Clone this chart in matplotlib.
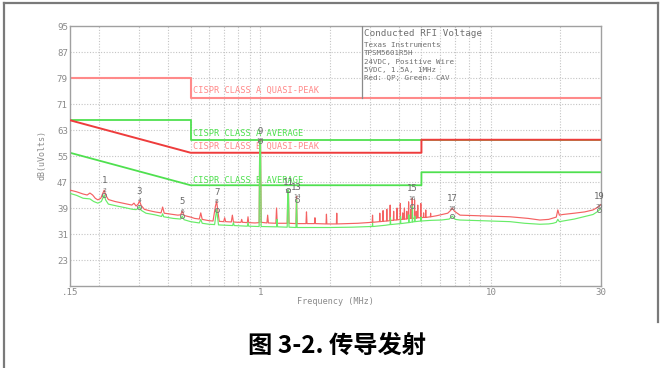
import matplotlib
matplotlib.use("Agg")
import matplotlib.pyplot as plt
from matplotlib.lines import Line2D

plt.rcParams["font.family"] = ["DejaVu Sans Mono"]

W, H = 662, 368

# CISPR 22 conducted emission limits (dBuV)
class_a_qp_f = [0.15, 0.5, 0.5, 30]
class_a_qp = [79, 79, 73, 73]
class_a_av_f = [0.15, 0.5, 0.5, 30]
class_a_av = [66, 66, 60, 60]
class_b_qp_f = [0.15, 0.5, 5, 5, 30]
class_b_qp = [66, 56, 56, 60, 60]
class_b_av_f = [0.15, 0.5, 5, 5, 30]
class_b_av = [56, 46, 46, 50, 50]

# quasi-peak scan
qp_freq = [0.150, 0.160, 0.171, 0.178, 0.183, 0.188, 0.193, 0.198, 0.204, 0.208,
           0.211, 0.214, 0.220, 0.235, 0.250, 0.265, 0.278, 0.284, 0.290, 0.296,
           0.300, 0.305, 0.315, 0.330, 0.350, 0.372, 0.378, 0.384, 0.410, 0.440,
           0.452, 0.460, 0.468, 0.500, 0.520, 0.545, 0.553, 0.561, 0.600, 0.625,
           0.640, 0.648, 0.656, 0.665, 0.695, 0.702, 0.709, 0.750, 0.758, 0.766,
           0.800, 0.826, 0.832, 0.838, 0.880, 0.886, 0.892, 0.950, 0.990, 0.996,
           1.004, 1.010, 1.070, 1.078, 1.086, 1.170, 1.178, 1.186, 1.310, 1.318,
           1.326, 1.334, 1.430, 1.438, 1.446, 1.580, 1.588, 1.596, 1.720, 1.728,
           1.736, 1.930, 1.938, 1.946, 2.140, 2.148, 2.156, 2.400, 2.650, 2.900,
           3.060, 3.070, 3.080, 3.290, 3.300, 3.310, 3.400, 3.410, 3.420, 3.530,
           3.540, 3.550, 3.650, 3.660, 3.670, 3.780, 3.790, 3.800, 3.910, 3.920,
           3.930, 4.040, 4.050, 4.060, 4.140, 4.150, 4.160, 4.210, 4.220, 4.230,
           4.310, 4.320, 4.330, 4.390, 4.400, 4.410, 4.480, 4.490, 4.500, 4.550,
           4.560, 4.570, 4.660, 4.670, 4.680, 4.740, 4.750, 4.760, 4.810, 4.820,
           4.830, 4.960, 4.970, 4.980, 5.100, 5.110, 5.120, 5.210, 5.220, 5.230,
           5.470, 5.480, 5.490, 5.800, 6.130, 6.500, 6.700, 6.800, 6.950, 7.350,
           9.000, 12.10, 14.50, 16.30, 17.80, 18.60, 19.20, 19.50, 19.80, 20.50,
           23.00, 25.50, 27.70, 29.00, 30.00]
qp_level = [44.5, 44.0, 43.3, 43.0, 43.6, 43.0, 42.0, 41.5, 42.0, 43.5,
            44.5, 43.0, 41.6, 41.0, 40.6, 40.2, 39.9, 40.5, 39.6, 40.2,
            41.2, 39.8, 38.6, 38.2, 37.8, 37.5, 39.3, 37.4, 37.1, 36.8,
            36.9, 38.0, 36.7, 36.2, 35.8, 35.6, 37.5, 35.5, 35.1, 35.0,
            39.5, 41.0, 38.0, 34.9, 34.8, 36.0, 34.8, 34.7, 36.8, 34.7,
            34.6, 34.6, 35.5, 34.6, 34.5, 36.3, 34.5, 34.4, 34.5, 59.8,
            59.8, 34.6, 34.4, 36.8, 34.4, 34.3, 39.0, 34.3, 34.3, 44.0,
            44.0, 34.3, 34.2, 42.5, 34.2, 34.2, 37.8, 34.2, 34.2, 36.0,
            34.2, 34.1, 37.1, 34.1, 34.1, 37.4, 34.1, 34.2, 34.3, 34.5,
            34.6, 36.8, 34.6, 34.8, 37.4, 34.8, 34.9, 38.2, 34.9, 35.0,
            38.6, 35.0, 35.1, 39.9, 35.2, 35.2, 38.0, 35.3, 35.3, 39.0,
            35.4, 35.4, 40.4, 35.5, 35.5, 37.5, 35.5, 35.6, 39.0, 35.6,
            35.6, 38.0, 35.7, 35.7, 40.9, 35.7, 35.8, 38.5, 35.8, 35.8,
            42.0, 35.8, 35.9, 41.5, 35.9, 35.9, 38.0, 35.9, 36.0, 39.9,
            36.0, 36.0, 40.4, 36.0, 36.1, 37.5, 36.1, 36.1, 38.4, 36.1,
            36.3, 37.4, 36.3, 36.6, 37.0, 37.4, 38.3, 39.0, 38.0, 36.8,
            36.6, 36.3, 35.8, 35.3, 35.5, 35.9, 36.2, 38.4, 36.8, 37.0,
            37.4, 37.8, 38.4, 39.2, 40.1]

# CISPR average scan
av_freq = [0.150, 0.160, 0.171, 0.183, 0.190, 0.198, 0.205, 0.209, 0.211, 0.214,
           0.220, 0.240, 0.260, 0.280, 0.290, 0.296, 0.300, 0.305, 0.320, 0.350,
           0.374, 0.378, 0.382, 0.420, 0.452, 0.460, 0.468, 0.500, 0.545, 0.553,
           0.561, 0.600, 0.635, 0.648, 0.660, 0.760, 0.766, 0.772, 0.880, 0.886,
           0.892, 0.990, 0.996, 1.004, 1.010, 1.178, 1.184, 1.190, 1.310, 1.318,
           1.326, 1.334, 1.430, 1.438, 1.446, 2.000, 2.500, 3.000, 3.060, 3.070,
           3.080, 3.500, 3.660, 3.670, 3.680, 4.050, 4.060, 4.070, 4.400, 4.410,
           4.420, 4.560, 4.570, 4.580, 4.670, 4.680, 4.690, 4.970, 4.980, 4.990,
           5.500, 6.100, 6.600, 6.800, 7.000, 7.350, 9.000, 12.10, 14.00, 16.30,
           17.80, 18.60, 19.20, 19.50, 19.80, 23.00, 27.70, 29.00, 30.00]
av_level = [43.5, 42.9, 42.0, 41.8, 41.0, 40.5, 41.0, 42.3, 43.0, 41.5,
            40.2, 39.6, 39.1, 38.6, 38.5, 38.9, 39.4, 38.3, 37.4, 36.9,
            36.4, 37.2, 36.3, 35.8, 35.6, 36.5, 35.4, 34.8, 34.4, 35.5,
            34.3, 34.0, 33.9, 38.5, 33.8, 33.6, 34.5, 33.6, 33.4, 34.5,
            33.4, 33.3, 59.5, 59.5, 33.3, 33.2, 35.5, 33.2, 33.1, 44.5,
            44.5, 33.1, 33.0, 41.5, 33.0, 33.0, 33.1, 33.3, 33.3, 34.3,
            33.3, 33.7, 33.9, 36.0, 33.9, 34.2, 36.4, 34.2, 34.5, 36.9,
            34.5, 34.7, 39.5, 34.7, 34.8, 36.5, 34.8, 35.0, 36.2, 35.0,
            35.2, 35.3, 35.6, 36.5, 35.5, 35.3, 35.1, 34.8, 34.3, 34.0,
            34.1, 34.3, 34.6, 35.5, 34.8, 35.6, 37.0, 37.9, 38.9]

# measurement markers: odd ids = QP, even ids = AV
marker_freq = [0.211, 0.300, 0.460, 0.648, 1.000, 1.322, 1.438, 4.565, 6.800, 29.5]
marker_qp = [44.5, 41.2, 38.0, 41.0, 59.8, 44.0, 42.5, 42.0, 39.0, 39.6]
marker_av = [43.0, 39.4, 36.5, 38.5, 59.5, 44.5, 41.5, 39.5, 36.5, 38.3]

y_ticks = [23, 31, 39, 47, 55, 63, 71, 79, 87, 95]
x_ticks = [0.15, 1, 10, 30]
x_tick_labels = [".15", "1", "10", "30"]
x_grid = [0.2, 0.3, 0.4, 0.5, 0.6, 0.7, 0.8, 0.9,
          2, 3, 4, 5, 6, 7, 8, 9, 20]

info_title = "Conducted RFI Voltage"
info_lines = ["Texas Instruments", "TPSM5601R5H", "24VDC, Positive Wire",
              "5VDC, 1.5A, 1MHz", "Red: QP; Green: CAV"]

GREY = "#8a8a8a"
PINK = "#ff8a8a"
RED = "#ee3c3c"
GREEN = "#4fe04f"

fig = plt.figure(figsize=(W / 100, H / 100), dpi=100)
fig.patch.set_facecolor("white")
ax = fig.add_axes([70 / W, 1 - 286 / H, 531 / W, 260 / H])
ax.set_xscale("log")
ax.set_xlim(0.15, 30)
ax.set_ylim(15, 95)

for xg in x_grid + [1, 10]:
    ax.axvline(xg, color="#c4c4c4", lw=0.8, ls=(0, (1, 1.5)), zorder=0)
for yg in y_ticks[:-1]:
    ax.axhline(yg, color="#c4c4c4", lw=0.8, ls=(0, (1, 1.5)), zorder=0)

ax.set_xticks(x_ticks)
ax.set_xticklabels(x_tick_labels)
ax.xaxis.set_minor_locator(matplotlib.ticker.NullLocator())
ax.set_yticks(y_ticks)
ax.tick_params(length=0, labelsize=6.6, labelcolor=GREY, pad=1.5)
for s in ax.spines.values():
    s.set_color("#a0a0a0")
    s.set_linewidth(1.0)

# limit lines
ax.plot(class_a_qp_f, class_a_qp, color=PINK, lw=1.5, zorder=2)
ax.plot(class_a_av_f, class_a_av, color=GREEN, lw=1.3, zorder=2)
ax.plot(class_b_av_f, class_b_av, color=GREEN, lw=1.3, zorder=2)
ax.plot(class_b_qp_f, class_b_qp, color=RED, lw=1.4, zorder=3)

lim_font = dict(fontsize=6.2, va="center", ha="left", zorder=4)
ax.text(0.51, 75.2, "CISPR CLASS A QUASI-PEAK", color=PINK, **lim_font)
ax.text(0.51, 61.8, "CISPR CLASS A AVERAGE", color=GREEN, **lim_font)
ax.text(0.51, 57.8, "CISPR CLASS B QUASI-PEAK", color=PINK, **lim_font)
ax.text(0.51, 47.6, "CISPR CLASS B AVERAGE", color=GREEN, **lim_font)

# measured traces
ax.plot(qp_freq, qp_level, color="#f46262", lw=0.85, zorder=5)
ax.plot(av_freq, av_level, color="#68ec68", lw=0.85, zorder=6)

# markers
for i, (f, qp, av) in enumerate(zip(marker_freq, marker_qp, marker_av)):
    ax.plot([f], [av], marker="o", ms=3, mfc="none", mec="#777777", mew=0.6, zorder=7)
    ax.annotate(str(2 * i + 1), (f, qp), xytext=(0, 3.5), textcoords="offset points",
                ha="center", va="bottom", fontsize=6.5, color="#6a6a6a", zorder=8)
    ax.annotate(str(2 * i + 2), (f, qp), xytext=(0, 0), textcoords="offset points",
                ha="center", va="center", fontsize=4.5, color="#6a6a6a", zorder=8)

# info box in the upper right corner
ax.plot([2.76, 2.76], [73, 95], color=GREY, lw=0.9, zorder=4)
ax.text(2.82, 92.8, info_title, fontsize=6.7, color="#707070", va="center", ha="left")
for k, line in enumerate(info_lines):
    ax.text(2.82, 89.1 - k * 2.55, line, fontsize=5.4, color="#707070",
            va="center", ha="left")

fig.text(42 / W, 1 - 155 / H, "dB(uVolts)", rotation=90, fontsize=6,
         color=GREY, ha="center", va="center")
fig.text(335 / W, 1 - 302 / H, "Frequency (MHz)", fontsize=6.1,
         color=GREY, ha="center", va="center")

# outer frame
frame = dict(color="#7a7a7a", lw=1.6, transform=fig.transFigure)
fig.add_artist(Line2D([4 / W, 4 / W], [0, 1 - 3 / H], **frame))
fig.add_artist(Line2D([4 / W, 658 / W], [1 - 3 / H, 1 - 3 / H], **frame))
fig.add_artist(Line2D([658 / W, 658 / W], [1 - 3 / H, 1 - 322 / H], **frame))

fig.text(337 / W, 1 - 346 / H, "图 3-2. 传导发射", fontsize=17.5, fontweight="bold",
         family=["Noto Sans CJK SC", "DejaVu Sans"], color="black",
         ha="center", va="center")

fig.savefig("out.png", dpi=100, facecolor="white")
